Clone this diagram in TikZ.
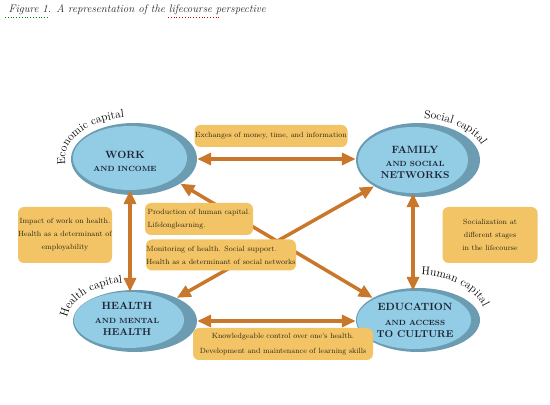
\documentclass[tikz,border=0pt]{standalone}
\usetikzlibrary{shapes.geometric,arrows.meta,decorations.text}
\definecolor{ringblue}{HTML}{6C9CB2}
\definecolor{coreblue}{HTML}{92CCE5}
\definecolor{notefill}{HTML}{F3C465}
\definecolor{notetext}{HTML}{2E2818}
\definecolor{linkorange}{HTML}{C9772B}
\definecolor{inktext}{HTML}{1C2333}
\tikzset{
  ring/.style={ellipse, fill=ringblue, inner sep=0pt},
  core/.style={ellipse, fill=coreblue, inner sep=0pt},
  headtext/.style={text=inktext, font=\bfseries, align=center, inner sep=0pt},
  notebox/.style={fill=notefill, rounded corners=6pt, text=notetext,
    font=\fontsize{7.5}{13}\selectfont, inner sep=0pt, align=center},
  linkarrow/.style={draw=linkorange, line width=3.5pt,
    {Triangle[length=14pt,width=12pt]}-{Triangle[length=14pt,width=12pt]}},
  capital/.style={decorate, decoration={text along path, text align=center,
    text={|\fontsize{11.5}{11.5}\selectfont|#1}}},
}
\begin{document}
\begin{tikzpicture}[x=1pt, y=1pt]
  \useasboundingbox (0,0) rectangle (550,405);
  % caption
  \node[anchor=base west, text=black!85, font=\itshape\fontsize{11}{12}\selectfont] (caption) at (5,392)
    {Figure 1. A representation of the lifecourse perspective};
  \draw[green!50!black, dotted, thick] (5,388) -- (49,388);
  \draw[red!80!black, dotted, thick] (168,388) -- (219,388);
  % the four capitals
  \node[ring, minimum width=126pt, minimum height=72pt] (work) at (134,246) {};
  \node[core, minimum width=114pt, minimum height=64pt] (work-in) at (130,247) {};
  \node[headtext] (work-txt) at (125,244)
    {\fontsize{10.5}{12}\selectfont WORK\\[1pt]\fontsize{7.5}{9}\selectfont AND INCOME};
  \node[ring, minimum width=124pt, minimum height=74pt] (family) at (418,245) {};
  \node[core, minimum width=110pt, minimum height=66pt] (family-in) at (413,245) {};
  \node[headtext] (family-txt) at (415,243)
    {\fontsize{10.5}{12}\selectfont FAMILY\\[1pt]\fontsize{7.5}{12.5}\selectfont AND SOCIAL\\NETWORKS};
  \node[ring, minimum width=124pt, minimum height=62pt] (health) at (135,84) {};
  \node[core, minimum width=110pt, minimum height=56pt] (health-in) at (129,85) {};
  \node[headtext] (health-txt) at (127,86)
    {\fontsize{10.5}{12}\selectfont HEALTH\\[2pt]\fontsize{7.5}{13.5}\selectfont AND MENTAL\\HEALTH};
  \node[ring, minimum width=124pt, minimum height=64pt] (education) at (418,85) {};
  \node[core, minimum width=114pt, minimum height=58pt] (education-in) at (414,85) {};
  \node[headtext] (education-txt) at (415,85)
    {\fontsize{10.5}{12}\selectfont EDUCATION\\[3pt]\fontsize{7.5}{15}\selectfont AND ACCESS\\TO CULTURE};
  % curved labels
  \path[capital={Economic capital}] ([shift={(188:69 and 42)}]work.center)
    arc[start angle=188, end angle=98, x radius=69, y radius=42];
  \path[capital={Social capital}] ([shift={(95:68 and 42)}]family.center)
    arc[start angle=95, end angle=5, x radius=68, y radius=42];
  \path[capital={Health capital}] ([shift={(185:68 and 39)}]health.center)
    arc[start angle=185, end angle=95, x radius=68, y radius=39];
  \path[capital={Human capital}] ([shift={(95:68 and 45)}]education.center)
    arc[start angle=95, end angle=5, x radius=68, y radius=45];
  % links
  \draw[linkarrow] (work.east) -- (work.east -| family.west);
  \draw[linkarrow] (health.east) -- (health.east -| education.west);
  \draw[linkarrow] (work-in.south) -- (work-in.south |- health-in.north);
  \draw[linkarrow] (family-in.south) -- (family-in.south |- education-in.north);
  \draw[linkarrow] (work.-28) -- (education.154);
  \draw[linkarrow] (health.29) -- (family.211);
  % notes
  \node[notebox, minimum width=153pt, minimum height=22pt] (exchange) at (271,269)
    {Exchanges of money, time, and information};
  \node[notebox, minimum width=94pt, minimum height=56pt] (impact) at (65,170)
    {Impact of work on health.\\Health as a determinant of\\employability};
  \node[notebox, minimum width=95pt, minimum height=56pt] (social) at (490,170)
    {Socialization at\\different stages\\in the lifecourse};
  \node[notebox, minimum width=108pt, minimum height=32pt, align=left] (produce) at (199,186)
    {Production of human capital.\\Lifelonglearning.};
  \node[notebox, minimum width=150pt, minimum height=31pt, align=left] (monitor) at (221,150)
    {Monitoring of health. Social support.\\Health as a determinant of social networks};
  \node[notebox, minimum width=180pt, minimum height=32pt, font=\fontsize{7.5}{15}\selectfont] (knowledge) at (283,61)
    {Knowledgeable control over one's health.\\Development and maintenance of learning skills};
\end{tikzpicture}
\end{document}
